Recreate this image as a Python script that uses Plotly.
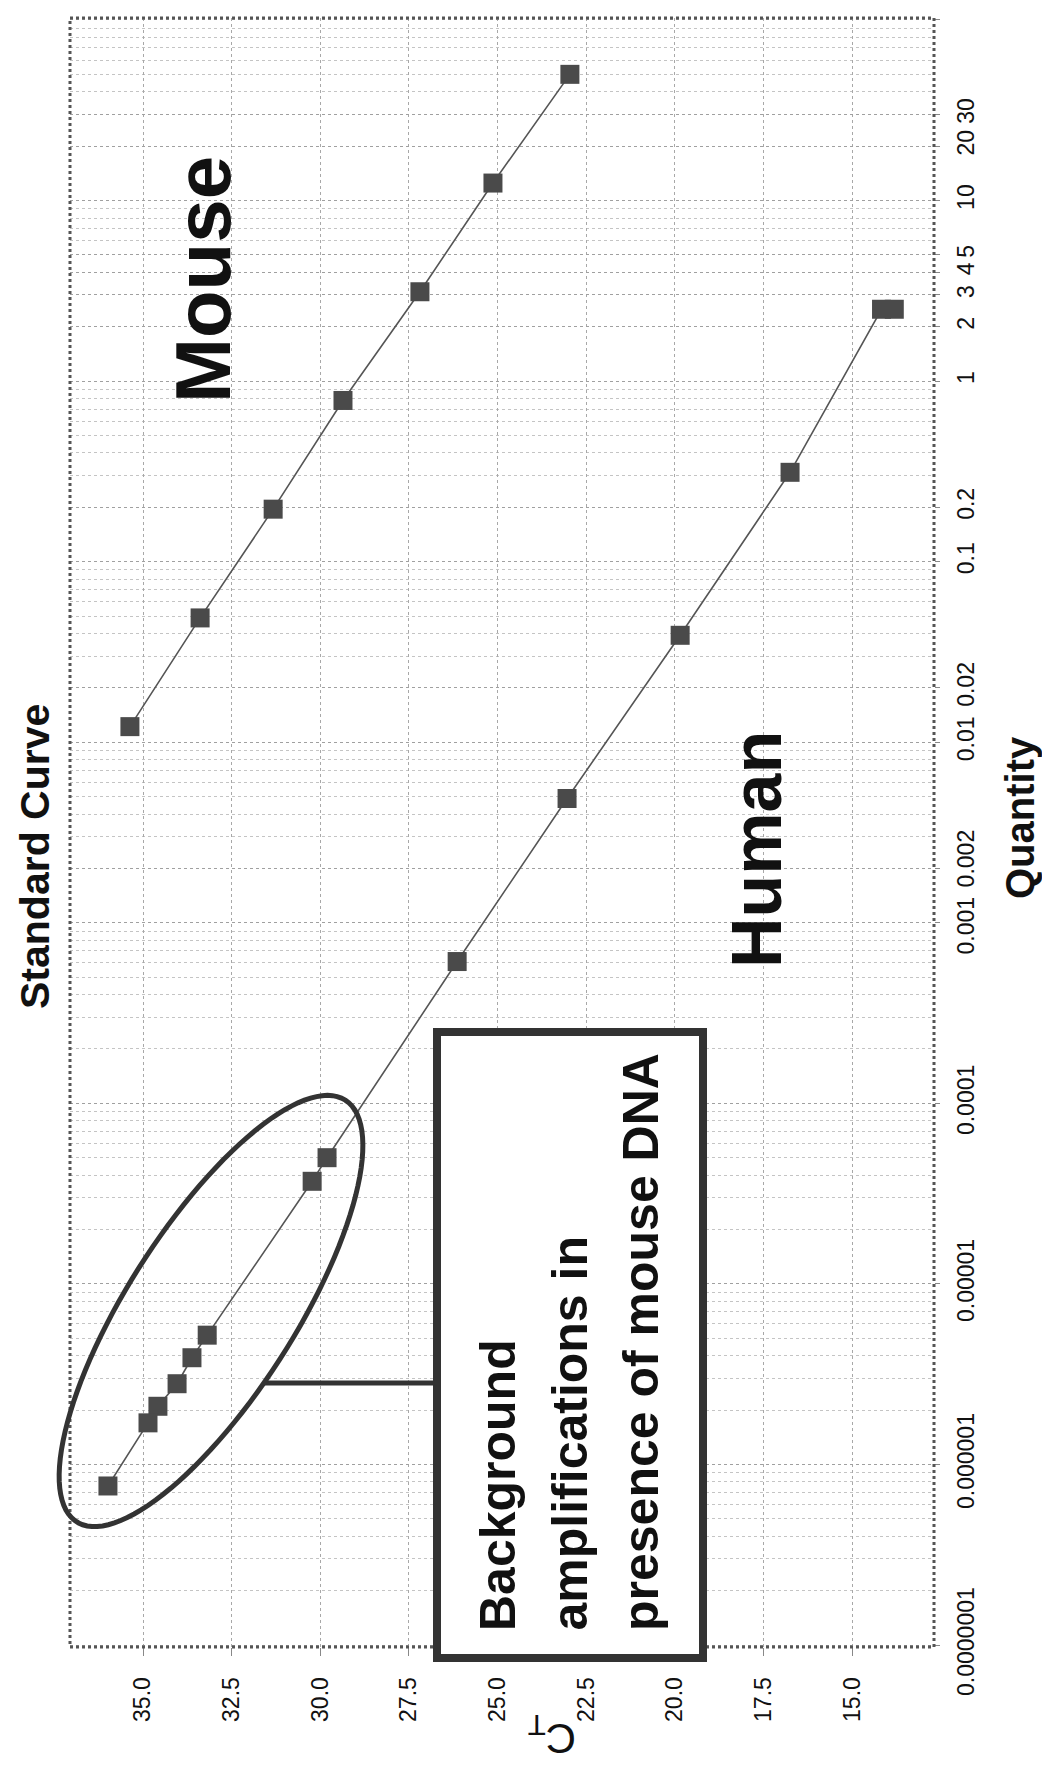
import numpy as np
import plotly.graph_objects as go

# Standard curve data: quantity (log scale) vs threshold cycle (CT)
mouse_qty = [50, 12.5, 3.125, 0.78125, 0.1953, 0.0488, 0.0122]
mouse_ct = [22.96, 25.13, 27.19, 29.36, 31.33, 33.39, 35.37]

human_qty = [2.5, 2.5, 0.3125, 0.0391, 0.00488, 0.00061,
             5.0e-5, 3.7e-5, 5.2e-6, 3.9e-6, 2.8e-6, 2.1e-6, 1.7e-6, 7.6e-7]
human_ct = [13.81, 14.17, 16.75, 19.85, 23.04, 26.14,
            29.81, 30.23, 33.19, 33.62, 34.04, 34.58, 34.86, 35.99]

ct_ticks = [15.0, 17.5, 20.0, 22.5, 25.0, 27.5, 30.0, 32.5, 35.0]
qty_ticks = [1e-7, 1e-6, 1e-5, 1e-4, 1e-3, 2e-3, 1e-2, 2e-2, 0.1, 0.2,
             1, 2, 3, 4, 5, 10, 20, 30, 100]
qty_labels = ["0.0000001", "0.000001", "0.00001", "0.0001", "0.001", "0.002",
              "0.01", "0.02", "0.1", "0.2", "1", "2", "3", "4", "5",
              "10", "20", "30", "100"]
qty_minor = [k * 10.0 ** e for e in range(-7, 2) for k in range(2, 10)]

# nudge the two crowded labels apart (text reads bottom-to-top)
NB = "\u00a0\u00a0"
qty_text = [lab + NB if lab == "0.001" else NB + lab if lab == "0.002" else lab
            for lab in qty_labels]

W, H = 1042, 1769
L, R, T, B = 70, 108, 18, 122
PW, PH = W - L - R, H - T - B


def xp(px):
    return (px - L) / PW


def yp(py):
    return (H - B - py) / PH


FONT = "Liberation Sans, Arial, sans-serif"
INK = "#111111"
MARK = "#4a4a4a"

fig = go.Figure()
for qty, ct in ((mouse_qty, mouse_ct), (human_qty, human_ct)):
    fig.add_trace(go.Scatter(
        x=ct, y=qty, mode="lines+markers",
        line=dict(color="#555555", width=1.6),
        marker=dict(symbol="square", size=19, color=MARK),
        showlegend=False,
    ))

fig.update_xaxes(
    range=[37.06, 12.69], tickvals=ct_ticks,
    ticktext=[f"{v:.1f}" for v in ct_ticks], tickangle=-90,
    ticks="outside", ticklen=8, tickcolor="#888888",
    ticklabelstandoff=12,
    showgrid=True, gridcolor="#a8a8a8", griddash="dot", gridwidth=1,
    zeroline=False, showline=False,
    tickfont=dict(family=FONT, size=23, color=INK),
)
fig.update_yaxes(
    type="log", range=[-7.011, 2.011], side="right",
    tickvals=qty_ticks, ticktext=qty_text, tickangle=-90,
    ticks="outside", ticklen=5, tickcolor="#888888",
    ticklabelstandoff=6,
    showgrid=True, gridcolor="#a0a0a0", griddash="dot", gridwidth=1,
    minor=dict(tickvals=qty_minor, showgrid=True, gridcolor="#c4c4c4",
               griddash="dot", gridwidth=1, ticks=""),
    zeroline=False, showline=False,
    tickfont=dict(family=FONT, size=23, color=INK),
)

shapes = [
    # plot frame
    dict(type="rect", xref="paper", yref="paper", x0=0, y0=0, x1=1, y1=1,
         line=dict(color="#555555", width=3, dash="dot"), layer="above"),
    # callout box
    dict(type="rect", xref="paper", yref="paper",
         x0=xp(437), x1=xp(703), y0=yp(1658), y1=yp(1032),
         line=dict(color="#333333", width=8), fillcolor="white", layer="above"),
    # connector from ellipse to box
    dict(type="line", xref="paper", yref="paper",
         x0=xp(263), x1=xp(437), y0=yp(1383), y1=yp(1383),
         line=dict(color="#333333", width=5), layer="above"),
]

# rotated ellipse around the low-quantity human points
cx, cy, a, b, th = 211, 1311, 250, 84, np.radians(57.5)
t = np.linspace(0, 2 * np.pi, 120)
ex = cx + a * np.cos(t) * np.cos(th) - b * np.sin(t) * np.sin(th)
ey = cy - (a * np.cos(t) * np.sin(th) + b * np.sin(t) * np.cos(th))
path = "M " + " L ".join(f"{xp(px):.5f},{yp(py):.5f}" for px, py in zip(ex, ey)) + " Z"
shapes.append(dict(type="path", xref="paper", yref="paper", path=path,
                   line=dict(color="#333333", width=5), layer="above"))


def note(text, px, py, size, bold=True, angle=-90, xanchor="center",
         yanchor="middle"):
    return dict(
        text=f"<b>{text}</b>" if bold else text,
        xref="paper", yref="paper", x=xp(px), y=yp(py),
        xanchor=xanchor, yanchor=yanchor, textangle=angle, showarrow=False,
        font=dict(family=FONT, size=size, color=INK),
    )


annotations = [
    note("Standard Curve", 35, 857, 41),
    note("Quantity", 1020, 818, 40),
    note("C<sub>T</sub>", 552, 1736, 42, bold=False, angle=180),
    note("Mouse", 203, 280, 78),
    note("Human", 757, 850, 70),
    note("Background", 498, 1633, 50, yanchor="bottom"),
    note("amplifications in", 569, 1633, 50, yanchor="bottom"),
    note("presence of mouse DNA", 641, 1633, 50, yanchor="bottom"),
]

fig.update_layout(
    width=W, height=H, margin=dict(l=L, r=R, t=T, b=B, pad=0),
    paper_bgcolor="white", plot_bgcolor="white",
    shapes=shapes, annotations=annotations,
)

fig.write_html("out.html")
